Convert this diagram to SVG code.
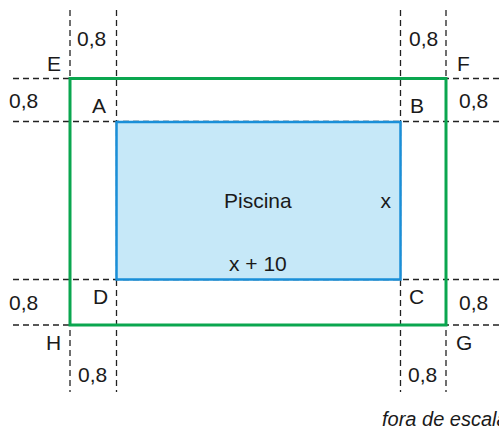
<svg xmlns="http://www.w3.org/2000/svg" width="499" height="428" viewBox="0 0 499 428">
<style>
.dash{stroke:#222;stroke-width:1.3;stroke-dasharray:6 4;fill:none}
.lbl{font-family:"Liberation Sans",Arial,sans-serif;font-size:21px;fill:#1a1a1a}
.it{font-family:"Liberation Sans",Arial,sans-serif;font-size:20px;font-style:italic;fill:#1a1a1a}
</style>
<rect width="499" height="428" fill="#fff"/>
<g id="connectors">
<line class="dash" x1="70" y1="10" x2="70" y2="392"/>
<line class="dash" x1="116.5" y1="10" x2="116.5" y2="392"/>
<line class="dash" x1="400.5" y1="10" x2="400.5" y2="392"/>
<line class="dash" x1="446" y1="10" x2="446" y2="392"/>
<line class="dash" x1="13" y1="78.5" x2="499" y2="78.5"/>
<line class="dash" x1="13" y1="121.5" x2="499" y2="121.5"/>
<line class="dash" x1="13" y1="279.5" x2="499" y2="279.5"/>
<line class="dash" x1="13" y1="325" x2="499" y2="325"/>
</g>
<g id="outer">
<rect x="70" y="78.5" width="376" height="246.5" fill="none" stroke="#0aa64f" stroke-width="3"/>
</g>
<g id="piscina">
<rect x="116.5" y="122" width="284" height="157.5" fill="#c6e8f8" stroke="#1a8fd8" stroke-width="2.5"/>
<text class="lbl" x="224" y="208">Piscina</text>
<text class="lbl" x="380.5" y="208">x</text>
<text class="lbl" x="229" y="271">x + 10</text>
</g>
<g id="labels">
<text class="lbl" x="77" y="46">0,8</text>
<text class="lbl" x="47" y="71">E</text>
<text class="lbl" x="9" y="108">0,8</text>
<text class="lbl" x="92" y="113">A</text>
<text class="lbl" x="409" y="46">0,8</text>
<text class="lbl" x="457" y="71">F</text>
<text class="lbl" x="410" y="113">B</text>
<text class="lbl" x="459" y="108">0,8</text>
<text class="lbl" x="9" y="310">0,8</text>
<text class="lbl" x="93" y="304">D</text>
<text class="lbl" x="46" y="350">H</text>
<text class="lbl" x="78" y="382">0,8</text>
<text class="lbl" x="409" y="304">C</text>
<text class="lbl" x="459" y="310">0,8</text>
<text class="lbl" x="456" y="350">G</text>
<text class="lbl" x="408" y="382">0,8</text>
<text class="it" x="382" y="426">fora de escala</text>
</g>
</svg>
